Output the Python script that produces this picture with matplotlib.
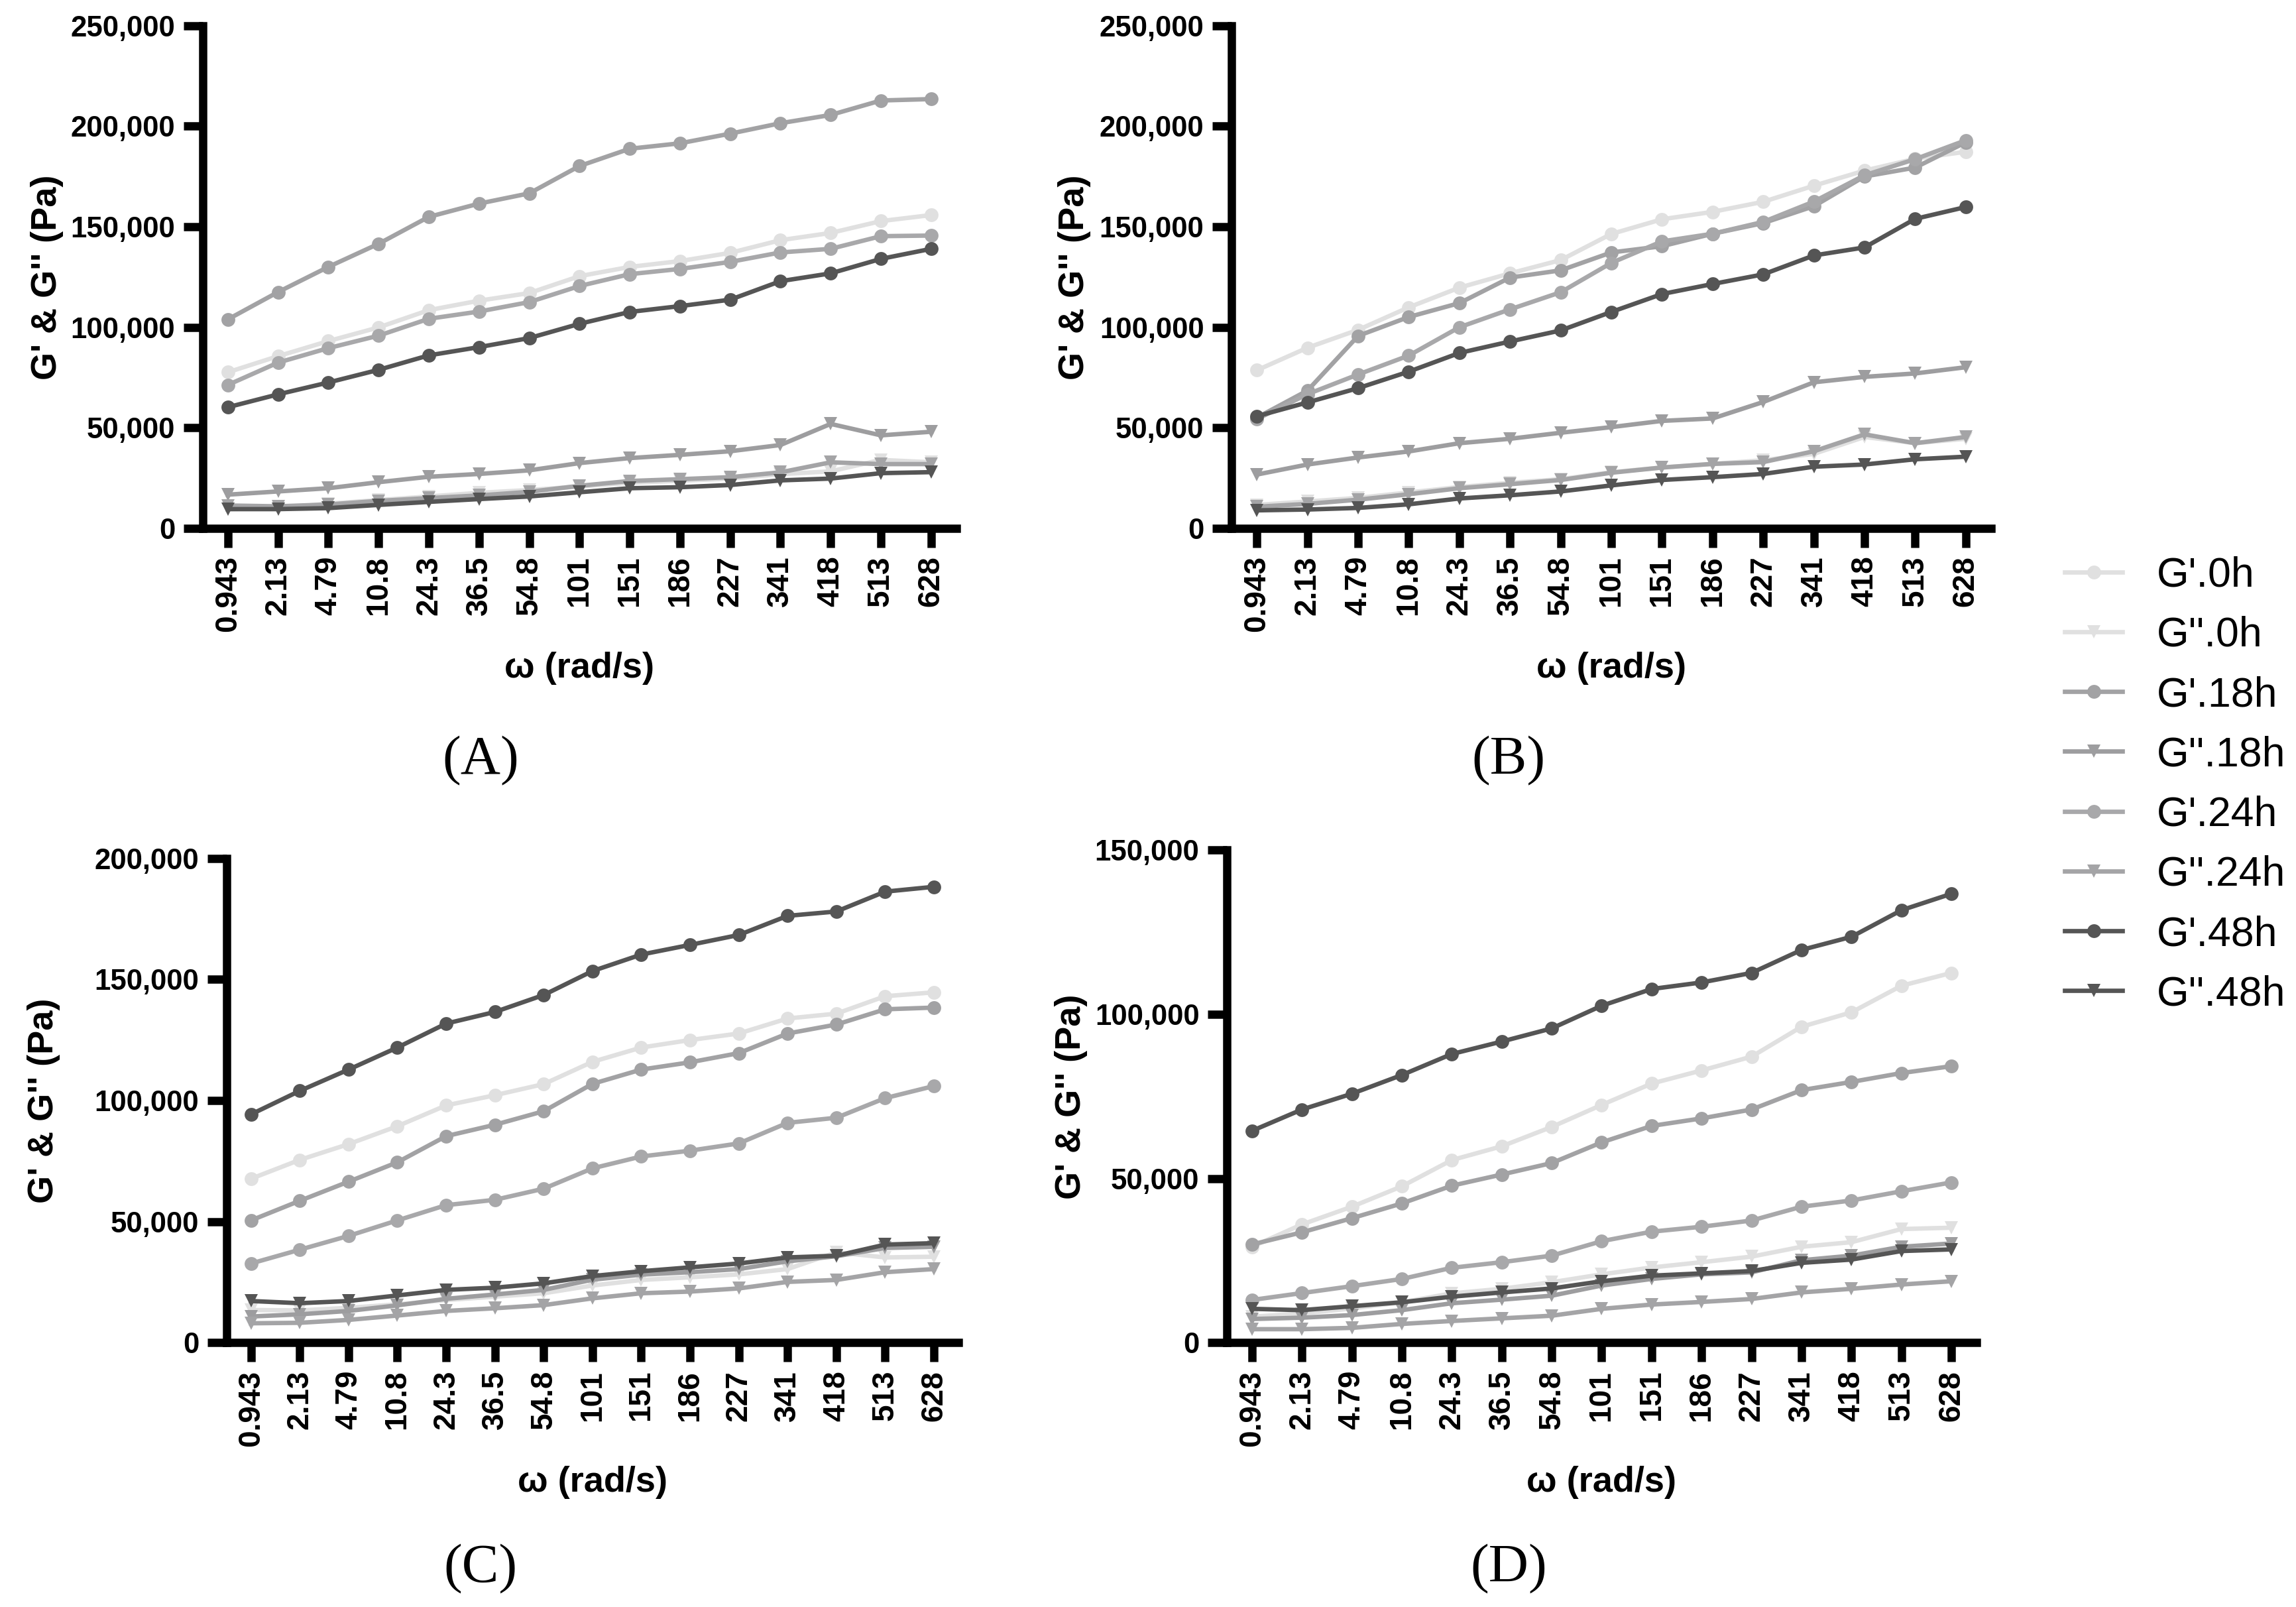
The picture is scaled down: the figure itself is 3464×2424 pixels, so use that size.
import matplotlib
matplotlib.use('Agg')
import matplotlib.pyplot as plt
from matplotlib.ticker import FuncFormatter, MultipleLocator

plt.rcParams['font.family'] = ['Liberation Sans', 'DejaVu Sans']

FREQ = ["0.943", "2.13", "4.79", "10.8", "24.3", "36.5", "54.8", "101",
        "151", "186", "227", "341", "418", "513", "628"]
SERIES = ["G'.0h", "G''.0h", "G'.18h", "G''.18h", "G'.24h", "G''.24h", "G'.48h", "G''.48h"]
COLORS = ['#e0e0e0', '#e0e0e0', '#a2a2a4', '#9d9d9f', '#a8a8aa', '#a4a4a6', '#555555', '#555555']
MARKERS = ['o', 'v', 'o', 'v', 'o', 'v', 'o', 'v']

# panel A
A_G1_0H = [77600, 85600, 93100, 99900, 108500, 113200, 117000, 125400, 130000, 132900, 137000, 143300, 146900, 152800, 155800]
A_G2_0H = [9500, 10000, 12200, 14000, 15800, 17600, 19000, 20800, 22600, 23600, 24700, 26900, 28300, 34000, 32800]
A_G1_18H = [103900, 117500, 130000, 141500, 154900, 161500, 166600, 180200, 188800, 191500, 196300, 201500, 205600, 212800, 213500]
A_G2_18H = [16700, 18300, 19900, 22900, 25600, 27000, 28800, 32400, 34900, 36500, 38300, 41400, 51900, 46200, 48000]
A_G1_24H = [71300, 82400, 89600, 95800, 104200, 107800, 112500, 120500, 126400, 129000, 132500, 137200, 139000, 145300, 145600]
A_G2_24H = [11300, 10900, 11800, 13600, 15000, 16300, 18100, 21100, 23500, 24400, 25400, 27800, 32800, 31900, 31900]
A_G1_48H = [60200, 66600, 72500, 78800, 86000, 90100, 94600, 101700, 107600, 110500, 113700, 122900, 126800, 134000, 139000]
A_G2_48H = [9500, 9500, 10000, 11600, 13100, 14500, 15800, 17900, 19900, 20400, 21500, 23800, 24700, 27400, 27900]

# panel B
B_G1_0H = [78600, 89800, 98700, 109900, 119700, 126800, 133400, 146400, 153700, 157400, 162400, 170400, 177900, 183800, 187300]
B_G2_0H = [11600, 13300, 15100, 17800, 20500, 22600, 24400, 27900, 30200, 32000, 33800, 37000, 45400, 42300, 44500]
B_G1_18H = [55000, 68500, 95700, 105100, 112000, 124700, 128300, 137200, 140300, 146500, 151800, 160200, 175000, 179400, 192000]
B_G2_18H = [26700, 31700, 35200, 38200, 42300, 44500, 47500, 50300, 53400, 54600, 62800, 72600, 75300, 77000, 80100]
B_G1_24H = [54300, 66700, 76500, 85900, 100000, 108900, 117400, 132000, 142700, 146500, 152400, 162500, 175600, 183600, 193000]
B_G2_24H = [10700, 12100, 14200, 16900, 19900, 21900, 24000, 27600, 30200, 32000, 32900, 38300, 46700, 42300, 45400]
B_G1_48H = [55700, 62600, 69700, 77900, 87200, 92900, 98400, 107600, 116500, 121500, 126300, 135700, 139700, 153900, 159800]
B_G2_48H = [8900, 9300, 10100, 11900, 14800, 16400, 18300, 21300, 24000, 25400, 27000, 30600, 31700, 34300, 35600]

# panel C
C_G1_0H = [67700, 75500, 82000, 89400, 98000, 102200, 106800, 116000, 121900, 125000, 127700, 133900, 135900, 143100, 144700]
C_G2_0H = [13500, 13300, 14400, 15800, 17600, 19000, 20400, 23600, 25900, 27000, 28200, 30400, 37300, 35200, 35500]
C_G1_18H = [50500, 58600, 66500, 74500, 85300, 90000, 95600, 106900, 112800, 115800, 119600, 127700, 131400, 137700, 138400]
C_G2_18H = [10800, 11700, 13100, 15400, 18100, 19900, 21800, 26000, 28100, 29100, 30400, 33600, 35700, 39100, 39600]
C_G1_24H = [32700, 38400, 44100, 50500, 56800, 59000, 63600, 72000, 76900, 79300, 82300, 90800, 92900, 101000, 106000]
C_G2_24H = [8000, 8200, 9400, 11200, 13100, 14200, 15500, 18300, 20400, 21100, 22400, 25100, 25900, 29100, 30400]
C_G1_48H = [94300, 104000, 112800, 121900, 131800, 136600, 143600, 153500, 160300, 164300, 168400, 176300, 178100, 186300, 188300]
C_G2_48H = [17200, 16300, 17200, 19500, 21800, 22700, 24500, 27500, 29500, 31100, 32700, 35200, 35900, 40500, 41100]

# panel D
D_G1_0H = [29200, 36000, 41400, 47600, 55600, 59800, 65700, 72400, 78900, 82900, 87100, 96200, 100600, 108700, 112600]
D_G2_0H = [7900, 8900, 10400, 12300, 15000, 16400, 18400, 20800, 22900, 24500, 26200, 29200, 30600, 34600, 35000]
D_G1_18H = [29900, 33600, 37900, 42400, 47800, 51200, 54700, 61000, 66000, 68300, 71000, 76900, 79400, 82100, 84200]
D_G2_18H = [7200, 7600, 8400, 9900, 12000, 13100, 14300, 17400, 19400, 20800, 21400, 25100, 26500, 29200, 30200]
D_G1_24H = [13000, 15100, 17200, 19400, 22800, 24500, 26500, 30900, 33800, 35300, 37200, 41400, 43300, 46100, 48800]
D_G2_24H = [4100, 4100, 4500, 5700, 6600, 7400, 8200, 10300, 11600, 12400, 13300, 15300, 16400, 17700, 18700]
D_G1_48H = [64500, 71000, 75800, 81500, 87900, 91700, 95700, 102600, 107700, 109700, 112600, 119600, 123600, 131700, 136700]
D_G2_48H = [10300, 9900, 11100, 12300, 14000, 15300, 16500, 18700, 20400, 21100, 21800, 24300, 25300, 27900, 28400]

# letter, axes box, y max, letter position, ylabel x (axes coords), series
PANELS = [
    ("(A)", [0.0883, 0.6713, 0.3282, 0.3127], 250000, (0.2093, 0.5264), -0.185,
     [A_G1_0H, A_G2_0H, A_G1_18H, A_G2_18H, A_G1_24H, A_G2_24H, A_G1_48H, A_G2_48H]),
    ("(B)", [0.5364, 0.6713, 0.3308, 0.3127], 250000, (0.6570, 0.5264), -0.185,
     [B_G1_0H, B_G2_0H, B_G1_18H, B_G2_18H, B_G1_24H, B_G2_24H, B_G1_48H, B_G2_48H]),
    ("(C)", [0.0987, 0.1645, 0.3187, 0.3013], 200000, (0.2093, 0.0235), -0.227,
     [C_G1_0H, C_G2_0H, C_G1_18H, C_G2_18H, C_G1_24H, C_G2_24H, C_G1_48H, C_G2_48H]),
    ("(D)", [0.5344, 0.1645, 0.3264, 0.3065], 150000, (0.6570, 0.0235), -0.186,
     [D_G1_0H, D_G2_0H, D_G1_18H, D_G2_18H, D_G1_24H, D_G2_24H, D_G1_48H, D_G2_48H]),
]

fig = plt.figure(figsize=(3464/300, 2424/300), dpi=300)
x = list(range(len(FREQ)))
handles = []
for letter, pos, ymax, lpos, ylx, data in PANELS:
    ax = fig.add_axes(pos)
    hs = []
    for vals, col, mk, name in zip(data, COLORS, MARKERS, SERIES):
        h, = ax.plot(x, vals, color=col, marker=mk, markersize=5, lw=1.6,
                     markeredgewidth=0, label=name, clip_on=False)
        hs.append(h)
    handles = hs
    ax.set_xlim(-0.5, len(FREQ) - 0.5)
    ax.set_ylim(0, ymax)
    ax.yaxis.set_major_locator(MultipleLocator(50000))
    ax.yaxis.set_major_formatter(FuncFormatter(lambda v, p: f'{int(v):,}'))
    ax.set_xticks(x)
    ax.set_xticklabels(FREQ, rotation=90, fontsize=11, fontweight='bold')
    for t in ax.get_yticklabels():
        t.set_fontsize(10.5)
        t.set_fontweight('bold')
    ax.spines['top'].set_visible(False)
    ax.spines['right'].set_visible(False)
    ax.spines['left'].set_linewidth(3)
    ax.spines['bottom'].set_linewidth(3)
    ax.tick_params(axis='both', length=7, width=3, pad=3)
    ax.set_ylabel("G' & G'' (Pa)", fontsize=13, fontweight='bold')
    ax.yaxis.set_label_coords(ylx, 0.5)
    ax.set_xlabel("\u03c9 (rad/s)", fontsize=13, fontweight='bold', labelpad=7)
    fig.text(lpos[0], lpos[1], letter, ha='center', va='center',
             fontsize=20, family=['Liberation Serif', 'DejaVu Serif'])

fig.legend(handles, SERIES, loc='center left', bbox_to_anchor=(0.892, 0.5116),
           frameon=False, fontsize=15, handlelength=1.4, handletextpad=0.82,
           labelspacing=0.5, borderaxespad=0)

fig.savefig('out.png', dpi=300, facecolor='white')
